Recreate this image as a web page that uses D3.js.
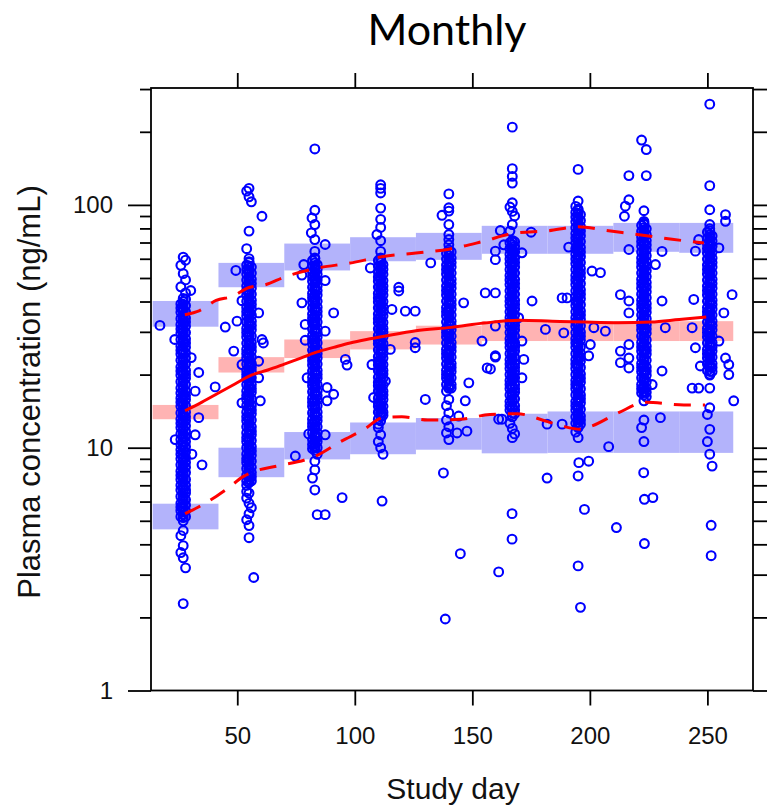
<!DOCTYPE html>
<html>
<head>
<meta charset="utf-8">
<script src="https://cdn.jsdelivr.net/npm/d3@7"></script>
<style>
  body { margin: 0; background: #fff; }
  svg { display: block; }
</style>
</head>
<body>
<svg id="chart" width="767" height="810"></svg>
<script>
// ---------- observed concentrations, grouped by study day (ng/mL) ----------
const visit1 = [
  [26, [56.4, 46.0, 39.1, 36.1, 32.1, 29.6, 26.2, 24.3, 21.5, 19.9, 17.6, 16.0, 14.8, 13.1, 12.1, 10.8, 9.8, 9.0, 8.0, 7.4, 6.7, 5.9, 5.5, 4.34, 3.70]],
  [27, [60.9, 52.1, 41.2, 36.6, 33.9, 30.0, 27.7, 24.5, 22.8, 20.1, 18.6, 16.5, 15.3, 13.5, 12.6, 11.1, 10.3, 9.1, 8.5, 7.5, 7.0, 6.1, 5.7, 5.0, 4.56, 3.95, 3.52, 2.28]],
  [28, [59.2, 49.1, 43.4, 38.5, 34.2, 31.6, 28.1, 25.9, 23.4, 20.8, 19.3, 17.1, 15.8, 14.0, 12.9, 11.7, 10.6, 9.6, 8.7, 7.9, 7.0, 6.5, 5.8, 5.2, 3.20]],
  [27, [40.0, 39.0, 37.5, 36.5, 35.1, 34.1, 32.8, 31.9, 30.9, 29.7, 28.9, 27.8, 27.0, 26.2, 25.2, 24.5, 23.5, 22.9, 22.0, 21.4, 20.6, 20.0, 19.3, 18.8, 18.0, 17.5, 16.9, 16.4, 15.9, 15.3, 14.9, 14.4, 13.9, 13.4, 13.0, 12.6, 12.1, 11.8, 11.4, 11.0, 10.6, 10.3, 10.0, 9.7, 9.4, 9.1, 8.8, 8.5, 8.2, 7.9, 7.7, 7.4, 7.2, 6.9, 6.7, 6.5, 6.3, 6.1, 5.9, 5.7, 5.5, 5.3, 5.15]],
  [26, [37.6, 34.0, 30.8, 27.9, 25.2, 22.9, 20.7, 18.7, 16.8, 15.4, 13.9, 12.6, 11.4, 10.3, 9.4, 8.5, 7.7, 7.0, 6.3, 5.7, 5.2]],
  [28, [40.9, 36.3, 32.9, 29.8, 27.0, 24.6, 22.1, 20.0, 18.2, 16.4, 14.9, 13.4, 12.3, 11.1, 10.1, 9.1, 8.3, 7.4, 6.7, 6.1, 5.5]]
];
const visit2 = [
  [54, [114, 66.0, 56.5, 51.9, 46.3, 42.5, 37.8, 34.9, 31.0, 28.6, 25.4, 23.4, 20.8, 19.3, 17.1, 15.8, 14.0, 12.9, 11.5, 10.6, 9.4, 8.7, 7.7, 7.0, 6.2, 5.05]],
  [55, [117, 108, 78.0, 60.1, 58.4, 53.6, 48.5, 43.2, 39.8, 35.5, 32.7, 29.0, 26.8, 23.7, 21.9, 19.5, 18.0, 16.0, 14.8, 13.1, 12.2, 10.8, 10.0, 8.8, 8.2, 7.2, 6.5, 5.9, 5.34, 4.78, 4.26]],
  [56, [103, 55.5, 49.4, 45.4, 40.5, 37.3, 33.2, 30.6, 27.1, 25.0, 22.2, 20.6, 18.2, 16.9, 14.9, 13.8, 12.2, 11.3, 10.1, 9.3, 8.3, 7.6, 5.66]],
  [55, [57.8, 56.1, 54.0, 52.5, 50.6, 49.1, 47.3, 45.9, 44.3, 43.0, 41.4, 40.2, 38.8, 37.7, 36.3, 35.2, 34.1, 32.9, 31.8, 30.8, 29.9, 28.8, 27.8, 27.0, 26.2, 25.3, 24.4, 23.6, 22.8, 22.1, 21.4, 20.7, 20.0, 19.3, 18.7, 18.1, 17.5, 16.9, 16.4, 15.9, 15.4, 14.9, 14.4, 13.9, 13.4, 13.0, 12.6, 12.2, 11.8, 11.4, 11.0, 10.7, 10.3, 10.0, 9.7, 9.4, 9.1, 8.8, 8.5, 8.2, 7.9, 7.7, 7.4, 7.2]],
  [54, [54.2, 49.0, 44.4, 40.1, 36.3, 32.9, 29.8, 26.9, 24.4, 22.1, 20.0, 18.2, 16.4, 14.9, 13.4, 12.2, 11.0, 10.0, 9.0, 8.2, 7.3, 6.6]],
  [56, [52.4, 47.4, 42.9, 38.9, 35.2, 31.9, 28.8, 26.0, 23.6, 21.4, 19.4, 17.5, 15.9, 14.3, 13.0, 11.7, 10.7, 9.7, 8.8, 7.9, 7.3]]
];
const visit3 = [
  [82, [59.0, 52.9, 48.5, 43.2, 39.8, 35.5, 32.7, 29.0, 26.8, 23.7, 21.9, 19.5, 18.0, 16.0, 14.8, 13.1, 12.2, 10.8, 9.9, 7.5]],
  [83, [170, 95.0, 83.0, 72.0, 64.3, 60.5, 55.4, 49.5, 45.4, 40.5, 37.3, 33.1, 30.6, 27.1, 25.0, 22.3, 20.6, 18.2, 16.9, 14.9, 13.9, 12.2, 11.3, 10.1, 8.8, 8.1, 6.7]],
  [84, [56.7, 51.8, 46.3, 42.5, 37.9, 34.9, 31.0, 28.6, 25.4, 23.4, 20.8, 19.3, 17.1, 15.8, 14.0, 12.9, 11.5, 10.6, 9.4, 5.3]],
  [83, [60.0, 57.7, 56.2, 54.1, 52.3, 50.8, 48.9, 47.5, 45.8, 44.5, 42.8, 41.6, 40.1, 39.0, 37.5, 36.5, 35.1, 34.1, 32.8, 32.0, 30.7, 29.9, 28.7, 28.0, 26.9, 26.2, 25.2, 24.5, 23.5, 22.9, 22.0, 21.5, 20.6, 20.1, 19.3, 18.8, 18.0, 17.6, 16.9, 16.5, 15.8, 15.5, 14.8, 14.5, 13.9, 13.6, 13.0, 12.7, 12.2, 11.9, 11.4, 11.1, 10.7, 10.4, 10.0, 9.75]],
  [82, [55.9, 50.7, 45.8, 41.5, 37.6, 34.1, 30.8, 27.9, 25.2, 22.8, 20.7, 18.7, 17.0, 15.4, 13.9, 12.6, 11.5, 10.3]],
  [84, [54.2, 49.0, 44.4, 40.1, 36.4, 32.9, 29.8, 27.0, 24.4, 22.1, 20.0, 18.2, 16.4, 14.9, 13.4, 12.2, 11.0, 10.0]]
];
const visit4 = [
  [110, [59.0, 52.9, 48.5, 43.2, 39.8, 35.5, 32.7, 29.0, 26.8, 23.7, 21.9, 19.5, 18.0, 16.0, 14.8, 13.1, 12.1, 10.6]],
  [111, [121, 117, 112, 97.0, 87.2, 80.8, 71.2, 64.3, 60.5, 55.4, 49.5, 45.4, 40.5, 37.3, 33.1, 30.6, 27.1, 25.0, 22.3, 20.6, 18.2, 16.9, 14.9, 13.9, 12.9, 11.3, 10.0]],
  [112, [56.7, 51.8, 46.3, 42.5, 37.9, 34.9, 31.0, 28.6, 25.4, 23.4, 20.8, 19.3, 17.1, 15.8, 14.0, 9.4]],
  [111, [59.7, 57.8, 56.1, 54.0, 52.5, 50.6, 49.1, 47.3, 45.9, 44.3, 43.0, 41.4, 40.2, 38.8, 37.7, 36.3, 35.2, 34.1, 32.9, 31.8, 30.8, 29.9, 28.8, 27.8, 27.0, 26.2, 25.3, 24.4, 23.6, 22.8, 22.1, 21.4, 20.7, 20.0, 19.3, 18.7, 18.1, 17.5, 16.9, 16.4, 15.9, 15.4, 14.9, 14.4, 13.9, 13.4]],
  [110, [56.0, 50.5, 45.9, 41.4, 37.7, 34.0, 30.9, 27.8, 25.3, 22.7, 20.8, 18.6, 17.1, 15.3, 14.0, 12.5]],
  [112, [54.3, 48.8, 44.5, 40.0, 36.5, 32.8, 29.9, 26.9, 24.5, 22.0, 20.1, 18.1, 16.5, 14.8, 13.6]]
];
const visit5 = [
  [139, [63.2, 56.5, 51.9, 46.3, 42.5, 37.8, 34.9, 31.0, 28.6, 25.4, 23.4, 20.8, 19.3, 17.1, 14.9, 13.0, 11.5]],
  [140, [111, 97.3, 94.3, 83.0, 75.5, 72.0, 68.5, 65.3, 58.5, 53.6, 47.9, 43.9, 39.2, 36.1, 32.1, 29.6, 26.2, 24.3, 21.5, 19.9, 17.6, 15.8, 13.9, 12.2, 10.8]],
  [141, [60.4, 55.5, 49.4, 45.4, 40.5, 37.3, 33.2, 30.6, 27.1, 25.0, 22.2, 20.6, 18.2]],
  [140, [64.1, 61.7, 60.0, 57.7, 56.2, 54.1, 52.3, 50.8, 48.9, 47.5, 45.8, 44.5, 42.8, 41.6, 40.1, 39.0, 37.5, 36.5, 35.1, 34.1, 32.8, 32.0, 30.7, 29.9, 28.7, 28.0, 26.9, 26.2, 25.2, 24.5, 23.5, 22.9, 22.0, 21.5, 20.6, 20.1, 19.3, 18.8, 18.0, 17.6]],
  [139, [59.8, 54.2, 49.0, 44.4, 40.1, 36.3, 32.9, 29.8, 27.0, 24.4, 22.1, 20.0, 18.2]],
  [141, [64.0, 57.9, 52.4, 47.4, 42.9, 38.9, 35.2, 31.9, 28.8, 26.0, 23.6, 21.4, 19.4, 17.6]]
];
const visit6 = [
  [166, [98.0, 78.0, 69.9, 62.5, 57.3, 51.2, 47.0, 41.8, 38.5, 34.3, 31.6, 28.1, 25.9, 23.0, 21.2, 18.9, 17.5, 15.5, 14.3, 12.6]],
  [167, [209, 141, 131, 123, 102, 94.0, 83.0, 71.4, 65.3, 58.5, 53.6, 47.9, 43.9, 39.2, 36.1, 32.1, 29.6, 26.2, 24.3, 21.5, 19.9, 17.6, 16.4, 14.5, 13.4, 12.0, 11.0]],
  [168, [90.0, 67.5, 60.4, 55.5, 49.4, 45.4, 40.5, 37.3, 33.2, 30.6, 27.1, 25.0, 22.2, 20.6, 18.2, 16.9, 14.9, 13.8, 11.4]],
  [167, [70.4, 68.5, 65.9, 64.1, 61.7, 60.0, 57.7, 56.2, 54.1, 52.3, 50.8, 48.9, 47.5, 45.8, 44.5, 42.8, 41.6, 40.1, 39.0, 37.5, 36.5, 35.1, 34.1, 32.8, 32.0, 30.7, 29.9, 28.7, 28.0, 26.9, 26.2, 25.2, 24.5, 23.5, 22.9, 22.0, 21.5, 20.6, 20.1, 19.3, 18.8, 18.0, 17.6, 16.9, 16.5, 15.8, 15.5, 14.8, 14.5, 13.9]],
  [166, [66.1, 59.8, 54.2, 49.1, 44.3, 40.1, 36.3, 32.9, 29.8, 27.0, 24.4, 22.1, 20.0, 18.2, 16.5, 14.9]],
  [168, [70.5, 63.9, 57.9, 52.4, 47.4, 42.9, 38.9, 35.2, 31.9, 28.8, 26.0, 23.6, 21.4, 19.4, 17.5, 15.9, 14.3]]
];
const visit7 = [
  [194, [98.6, 93.1, 85.2, 76.2, 70.0, 62.5, 57.3, 51.2, 47.0, 41.8, 38.5, 34.3, 31.6, 28.1, 25.9, 23.0, 21.2, 18.9, 17.5, 15.5, 14.3, 12.6, 11.6]],
  [195, [140, 103.7, 96.2, 88.1, 78.8, 72.3, 64.6, 59.3, 52.9, 48.6, 43.3, 39.7, 35.4, 32.8, 28.9, 26.9, 23.7, 21.9, 19.5, 18.0, 16.0, 14.7, 13.2, 12.1, 11.0]],
  [196, [91.2, 81.4, 74.7, 66.8, 61.2, 54.7, 50.2, 44.7, 41.1, 36.6, 33.8, 29.9, 27.7, 24.5, 22.7, 20.1, 18.6, 16.5, 15.3, 13.5, 12.5]],
  [195, [95.0, 92.3, 88.9, 86.4, 83.2, 80.8, 78.1, 75.3, 73.2, 70.4, 68.5, 65.9, 64.1, 61.7, 60.0, 57.7, 56.2, 54.1, 52.3, 50.8, 48.9, 47.5, 45.8, 44.5, 42.8, 41.6, 40.1, 39.0, 37.5, 36.5, 35.1, 34.1, 32.8, 32.0, 30.7, 29.9, 28.7, 28.0, 26.9, 26.2, 25.2, 24.5, 23.5, 22.9, 22.0, 21.5, 20.6, 20.1, 19.3, 18.8, 18.0, 17.6, 16.9, 16.5, 15.8, 15.5, 14.8, 14.5, 13.9, 13.6, 13.0, 12.7, 12.2]],
  [194, [89.1, 80.6, 73.0, 66.1, 59.8, 54.2, 49.1, 44.3, 40.1, 36.3, 32.9, 29.8, 27.0, 24.4, 22.1, 20.0, 18.2, 16.5, 14.9, 13.4]],
  [196, [86.2, 78.0, 70.6, 63.9, 57.9, 52.4, 47.4, 42.9, 38.8, 35.2, 31.8, 28.8, 26.0, 23.6, 21.4, 19.3, 17.5, 15.9, 14.4, 13.0]]
];
const visit8 = [
  [222, [185, 82.4, 73.7, 67.6, 60.4, 55.5, 49.4, 45.4, 40.5, 37.3, 33.2, 30.6, 27.1, 25.0, 22.2, 20.6, 18.2, 16.8, 12.1]],
  [223, [94.6, 85.5, 84.2, 77.2, 69.0, 63.3, 56.5, 51.9, 46.3, 42.5, 37.8, 34.9, 31.0, 28.6, 25.4, 23.4, 20.8, 19.3, 17.1, 15.6, 13.0, 10.6]],
  [224, [169, 132, 79.7, 71.3, 65.4, 58.4, 53.6, 47.9, 43.9, 39.2, 36.1, 32.1, 29.6, 26.2, 24.3, 21.5, 19.9, 17.6, 16.2]],
  [223, [83.2, 80.8, 78.1, 75.3, 73.2, 70.4, 68.5, 65.9, 64.1, 61.7, 60.0, 57.7, 56.2, 54.1, 52.3, 50.8, 48.9, 47.5, 45.8, 44.5, 42.8, 41.6, 40.1, 39.0, 37.5, 36.5, 35.1, 34.1, 32.8, 32.0, 30.7, 29.9, 28.7, 28.0, 26.9, 26.2, 25.2, 24.5, 23.5, 22.9, 22.0, 21.5, 20.6, 20.1, 19.3, 18.8, 18.0, 17.6, 16.9, 16.5]],
  [222, [77.9, 70.6, 63.9, 57.9, 52.4, 47.4, 42.9, 38.9, 35.2, 31.9, 28.8, 26.0, 23.6, 21.4, 19.4, 17.5]],
  [224, [75.4, 68.3, 61.8, 55.9, 50.7, 45.9, 41.5, 37.6, 34.0, 30.8, 27.8, 25.2, 22.9, 20.7, 18.7, 16.9]]
];
const visit9 = [
  [250, [77.2, 69.0, 63.3, 56.5, 51.9, 46.3, 42.5, 37.8, 34.9, 31.0, 28.6, 25.4, 23.4, 20.8, 13.7, 10.6]],
  [251, [260, 120, 95.5, 83.0, 79.7, 71.3, 65.4, 58.4, 53.6, 47.9, 43.9, 39.2, 36.1, 32.1, 29.6, 26.2, 24.3, 21.5, 19.9, 17.6, 14.6, 11.9, 9.4]],
  [252, [74.5, 67.6, 60.4, 55.5, 49.4, 45.4, 40.5, 37.3, 33.2, 30.6, 27.1, 25.0, 22.2, 20.6, 8.4]],
  [251, [78.1, 75.3, 73.2, 70.4, 68.5, 65.9, 64.1, 61.7, 60.0, 57.7, 56.2, 54.1, 52.3, 50.8, 48.9, 47.5, 45.8, 44.5, 42.8, 41.6, 40.1, 39.0, 37.5, 36.5, 35.1, 34.1, 32.8, 32.0, 30.7, 29.9, 28.7, 28.0, 26.9, 26.2, 25.2, 24.5, 23.5, 22.9, 22.0, 21.5, 20.6, 20.1]],
  [250, [73.0, 66.1, 59.8, 54.2, 49.0, 44.4, 40.1, 36.3, 32.9, 29.8, 27.0, 24.4, 22.1]],
  [252, [71.0, 63.9, 57.9, 52.4, 47.4, 42.9, 38.9, 35.2, 31.9, 28.8, 26.0, 23.6, 21.4]]
];

// samples taken away from the scheduled visit days: [study day, ng/mL]
const offSchedule = [
  [17.1,31.9],[23.4,27.9],[30.4,23.5],[33.6,20.4],[32.1,17.1],[40.6,17.8],[33.6,13.3],[32.1,11.3],[30.7,9.4],[35.0,8.5],[23.6,10.8],[30.2,44.4],
  [49.4,53.7],[60.5,89.8],[52.0,40.3],[44.9,31.4],[49.9,33.2],[59.1,35.9],[60.5,27.9],[48.5,25.0],[52.0,22.0],[59.1,22.7],[59.1,19.4],[52.0,15.3],[59.8,15.6],[61.1,27.0],[57.0,2.92],
  [77.5,39.5],[91.0,35.9],[78.9,32.2],[87.4,30.2],[78.9,27.7],[96.0,23.1],[96.7,21.9],[79.7,19.4],[88.2,17.7],[91.0,16.6],[88.2,15.6],[80.4,11.4],[87.4,11.3],[74.7,9.24],[94.6,6.23],[87.4,68.7],[78.3,56.8],[77.5,51.4],[87.4,48.8],[81.5,76.7],[81.8,88.3],[87.4,5.3],
  [106.6,55.0],[118.7,45.8],[132.3,57.7],[118.7,44.2],[115.8,37.1],[121.5,36.5],[125.7,36.5],[115.1,25.4],[107.3,22.0],[113.0,18.8],[108.0,16.1],[130.0,15.8],[125.7,27.1],[125.7,25.8],[111.6,6.03],[109.4,75.5],
  [146.3,39.5],[155.5,43.4],[159.8,43.4],[154.1,27.5],[159.8,31.7],[159.8,23.6],[157.7,21.1],[148.5,18.5],[147.0,15.6],[144.2,13.5],[143.5,11.5],[147.7,11.7],[162.6,13.1],[144.9,3.66],[138.5,1.97],[137.7,7.87],[137.1,90.6],
  [175.4,40.2],[169.7,34.3],[171.1,27.5],[171.9,23.1],[171.1,19.4],[161.2,13.1],[156.3,21.3],[159.8,23.9],[181.1,30.7],[188.9,29.7],[181.8,7.5],[166.9,5.35],[166.9,4.20],[161.2,3.08],[161.9,78.4],[175.0,77.2],[159.8,64.5],[159.8,59.5],[163.4,68.5],[171.1,63.5],
  [188.2,41.4],[190.3,41.4],[201.7,31.2],[206.6,30.2],[200.2,26.6],[199.5,23.9],[181.8,12.5],[188.2,12.5],[208.0,10.1],[195.3,8.68],[199.5,8.8],[195.0,7.65],[197.7,5.57],[195.0,3.26],[196.0,2.20],[191.0,67.0],[200.9,53.4],[204.5,52.6],
  [213.0,42.7],[216.6,40.2],[216.6,35.9],[230.7,40.2],[232.1,31.2],[216.6,26.6],[213.0,25.0],[216.6,23.4],[213.0,22.4],[216.6,21.3],[230.7,20.7],[226.5,18.2],[230.0,13.3],[216.6,65.5],[230.7,64.3],[227.9,56.8],[216.6,132],[216.6,105],[215.1,98.8],[214.7,89.8],[211.3,4.69],[223.2,6.13],[226.8,6.23],[223.2,4.03],[222.9,7.89],
  [260.5,42.7],[257.0,35.9],[244.2,40.8],[243.5,31.2],[244.9,25.8],[247.0,21.7],[254.9,27.5],[257.7,23.4],[259.1,22.0],[259.1,20.0],[261.2,15.6],[243.5,17.6],[246.3,17.6],[246.3,72.0],[244.9,64.5],[254.9,66.5],[257.7,91.2],[257.7,85.6],[251.6,4.79],[251.6,3.59]
];

// ---------- simulation-based prediction intervals per time bin ----------
const binEdges = [14, 42, 70, 98, 126, 154, 182, 210, 238, 261];
const p95Low  = [31.5, 45.8, 53.7, 58.6, 59.4, 62.9, 62.9, 64.1, 63.5];
const p95High = [40.2, 57.7, 69.3, 73.6, 76.7, 82.0, 82.0, 84.3, 84.3];
const p50Low  = [13.1, 20.4, 23.4, 25.4, 26.6, 27.5, 27.5, 27.5, 27.5];
const p50High = [15.0, 23.6, 27.9, 30.2, 31.8, 33.2, 33.2, 33.2, 33.2];
const p05Low  = [4.61, 7.56, 8.95, 9.40, 9.81, 9.48, 9.52, 9.52, 9.52];
const p05High = [5.88, 10.0, 11.6, 12.7, 13.25, 13.8, 14.1, 14.1, 14.1];

// ---------- observed percentiles (smoothed) ----------
const medianDays = [27.8, 35, 42, 49, 56, 63, 70, 77, 84, 91, 98, 105, 112, 126, 141, 155, 170, 184, 198, 212, 226, 238, 249.5];
const medianConc = [14.2, 15.4, 16.8, 18.3, 19.9, 20.9, 22.1, 23.4, 24.8, 25.9, 27.0, 27.9, 28.7, 30.3, 31.3, 32.6, 33.5, 33.2, 32.9, 32.7, 32.9, 33.7, 34.5];
const upperDays = [27.7, 34, 41, 48, 55, 62, 70, 84, 98, 112, 126, 140, 154, 168, 182, 195, 208, 221, 235, 248.5];
const upperConc = [35.3, 36.7, 40.4, 42.0, 45.7, 46.9, 50.4, 54.9, 57.6, 61.3, 63.3, 65.7, 70.5, 76.5, 78.2, 81.2, 78.2, 75.4, 72.2, 69.6];
const lowerDays = [27.8, 33.5, 41, 46, 52.5, 57.5, 66.8, 79.5, 84, 94, 104, 112, 120, 131, 145, 157.5, 169, 182, 188, 196, 201, 212, 224, 240, 249];
const lowerConc = [5.35, 5.7, 6.3, 6.8, 7.6, 8.0, 8.4, 8.95, 9.3, 10.6, 11.9, 13.3, 13.4, 13.0, 13.1, 13.7, 13.8, 12.8, 12.3, 11.9, 12.3, 13.9, 15.4, 15.0, 15.0];

// ---------- axis ticks ----------
const xTicks = [50, 100, 150, 200, 250];
const yMajor = [1, 10, 100];
const yMinor = [2, 3, 4, 5, 6, 7, 8, 9, 20, 30, 40, 50, 60, 70, 80, 90, 200, 300];

// ---------- drawing ----------
const svg = d3.select("#chart");
const plotLeft = 151, plotRight = 753, plotTop = 88, plotBottom = 690.5;

const x = d3.scaleLinear().domain([13.3, 269.4]).range([plotLeft, plotRight]);
const y = d3.scaleLog().domain([1, 303]).range([plotBottom, plotTop]);

const tickFont = "'Liberation Sans', Arial, sans-serif";

svg.append("defs").append("clipPath").attr("id", "plotClip")
  .append("rect").attr("x", plotLeft).attr("y", plotTop)
  .attr("width", plotRight - plotLeft).attr("height", plotBottom - plotTop);

const plot = svg.append("g").attr("clip-path", "url(#plotClip)");

// prediction interval boxes
const bins = d3.range(binEdges.length - 1).map(i => ({
  x0: binEdges[i], x1: binEdges[i + 1],
  bands: [
    { lo: p95Low[i], hi: p95High[i], fill: "#b3b3fb" },
    { lo: p50Low[i], hi: p50High[i], fill: "#ffb3b3" },
    { lo: p05Low[i], hi: p05High[i], fill: "#b3b3fb" }
  ]
}));
bins.forEach(b => {
  plot.selectAll(null).data(b.bands).enter().append("rect")
    .attr("x", x(b.x0))
    .attr("width", x(b.x1) - x(b.x0))
    .attr("y", d => y(d.hi))
    .attr("height", d => y(d.lo) - y(d.hi))
    .attr("fill", d => d.fill);
});

// observations
const obs = [];
[visit1, visit2, visit3, visit4, visit5, visit6, visit7, visit8, visit9].forEach(v =>
  v.forEach(([day, values]) => values.forEach(c => obs.push([day, c]))));
offSchedule.forEach(p => obs.push(p));

plot.append("g").selectAll("circle").data(obs).enter().append("circle")
  .attr("cx", d => x(d[0]))
  .attr("cy", d => y(d[1]))
  .attr("r", 4.4)
  .attr("fill", "none")
  .attr("stroke", "#0000ff")
  .attr("stroke-width", 2.1);

// observed percentile curves
const line = d3.line().x(d => x(d[0])).y(d => y(d[1])).curve(d3.curveMonotoneX);
const zip = (a, b) => a.map((v, i) => [v, b[i]]);

plot.append("path").datum(zip(upperDays, upperConc))
  .attr("d", line).attr("fill", "none").attr("stroke", "#ff0000")
  .attr("stroke-width", 3).attr("stroke-dasharray", "17,12");
plot.append("path").datum(zip(lowerDays, lowerConc))
  .attr("d", line).attr("fill", "none").attr("stroke", "#ff0000")
  .attr("stroke-width", 3).attr("stroke-dasharray", "17,12");
plot.append("path").datum(zip(medianDays, medianConc))
  .attr("d", line).attr("fill", "none").attr("stroke", "#ff0000")
  .attr("stroke-width", 3);

// axes
function styleAxis(g) {
  g.select(".domain").remove();
  g.selectAll(".tick line").attr("stroke", "#000").attr("stroke-width", 1.8);
  g.selectAll(".tick text").attr("fill", "#111")
    .style("font-family", tickFont).style("font-size", "24px");
}
svg.append("g").attr("transform", `translate(${plotLeft},0)`)
  .call(d3.axisLeft(y).tickValues(yMinor).tickSize(11).tickFormat(""))
  .call(styleAxis);
svg.append("g").attr("transform", `translate(${plotLeft},0)`)
  .call(d3.axisLeft(y).tickValues(yMajor).tickSize(23).tickPadding(15).tickFormat(d3.format("d")))
  .call(styleAxis);
svg.append("g").attr("transform", `translate(${plotRight},0)`)
  .call(d3.axisRight(y).tickValues(yMinor.concat(yMajor)).tickSize(16).tickFormat(""))
  .call(styleAxis);
svg.append("g").attr("transform", `translate(0,${plotTop})`)
  .call(d3.axisTop(x).tickValues(xTicks).tickSize(15).tickFormat(""))
  .call(styleAxis);
svg.append("g").attr("transform", `translate(0,${plotBottom})`)
  .call(d3.axisBottom(x).tickValues(xTicks).tickSize(15).tickPadding(21).tickFormat(d3.format("d")))
  .call(styleAxis);

// frame
svg.append("rect").attr("x", plotLeft).attr("y", plotTop)
  .attr("width", plotRight - plotLeft).attr("height", plotBottom - plotTop)
  .attr("fill", "none").attr("stroke", "#000").attr("stroke-width", 1.8);

// titles
svg.append("text").attr("x", 447).attr("y", 45)
  .attr("text-anchor", "middle")
  .style("font-family", "Lato, 'Open Sans', sans-serif").style("font-size", "43px")
  .attr("fill", "#000").text("Monthly");
svg.append("text").attr("x", 453).attr("y", 799)
  .attr("text-anchor", "middle")
  .style("font-family", tickFont).style("font-size", "30px")
  .attr("fill", "#111").text("Study day");
svg.append("text")
  .attr("transform", "translate(40,392) rotate(-90)")
  .attr("text-anchor", "middle")
  .style("font-family", tickFont).style("font-size", "31px")
  .attr("fill", "#111").text("Plasma concentration (ng/mL)");
</script>
</body>
</html>
